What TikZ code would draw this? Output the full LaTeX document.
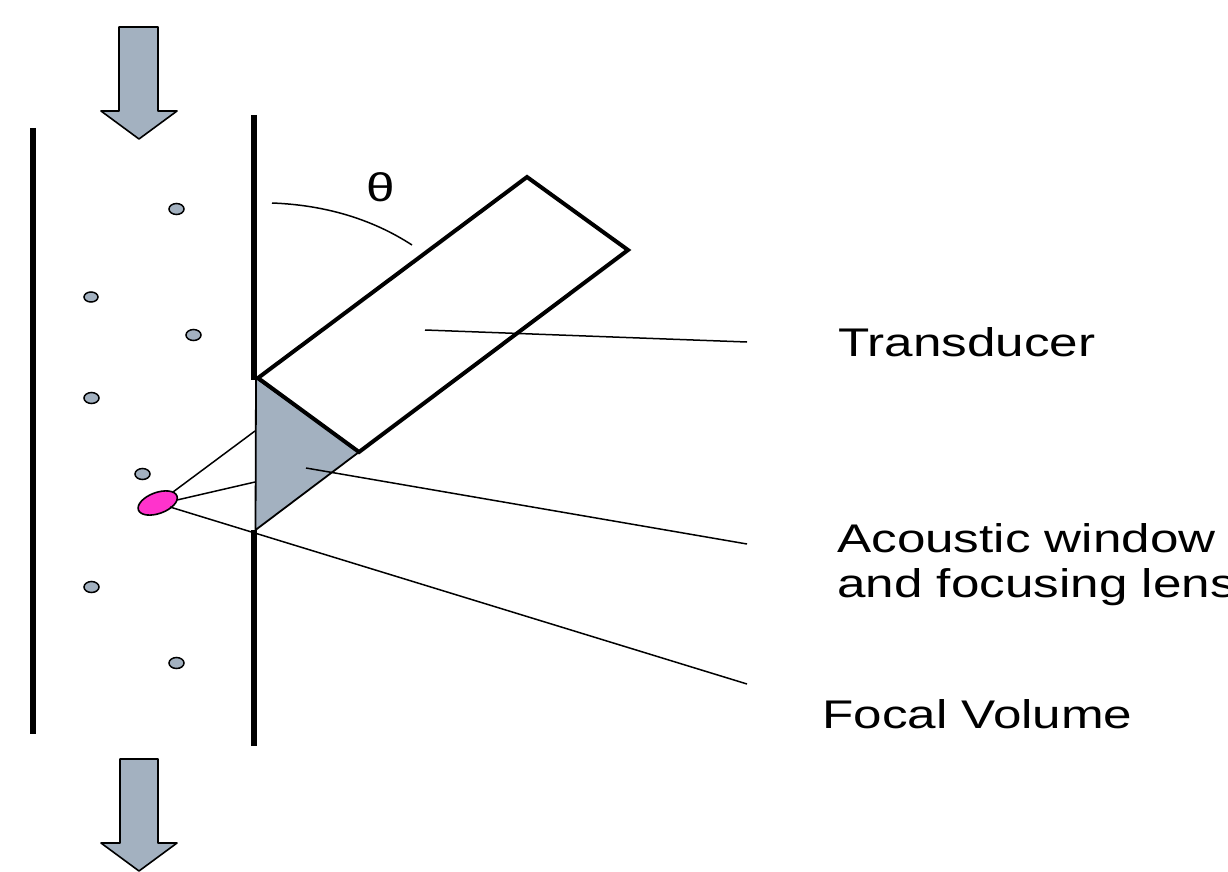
\documentclass[tikz,border=0pt]{standalone}
\usepackage{fontspec}
\setmainfont{Liberation Sans}
\usetikzlibrary{shapes.geometric}
\definecolor{bluegray}{HTML}{A3B1C0}
\definecolor{focalpink}{HTML}{FF33CC}
\tikzset{
  wall/.style={line width=6pt,line cap=butt},
  thinline/.style={line width=1.5pt},
  flowarrow/.style={draw=black,line width=1.6pt,fill=bluegray,line join=round},
  dotp/.style={ellipse,draw=black,line width=1.5pt,fill=bluegray,minimum width=15pt,minimum height=11pt,inner sep=0pt},
  smalldot/.style={dotp,minimum width=14pt,minimum height=10pt},
  label/.style={anchor=base west,inner sep=0pt,font=\fontsize{40}{40}\selectfont,xscale=1.28,transform shape},
}
\begin{document}
\begin{tikzpicture}[x=1pt,y=-1pt]
\useasboundingbox (0,0) rectangle (1228,872);
% walls
\draw[wall] (33,128) -- (33,734);
\draw[wall] (254,115) -- (254,380);
\draw[wall] (254,530) -- (254,746);
% flow arrows
\draw[flowarrow] (119,27) -- (158,27) -- (158,111) -- (177,111) -- (139,139) -- (101,111) -- (119,111) -- cycle;
\draw[flowarrow] (120,759) -- (158,759) -- (158,843) -- (177,843) -- (139,871) -- (101,843) -- (120,843) -- cycle;
% particles
\node[dotp] (p1) at (176.5,209) {};
\node[smalldot] (p2) at (91,297) {};
\node[dotp] (p3) at (193.5,335) {};
\node[dotp] (p4) at (91.5,398) {};
\node[dotp] (p5) at (142.5,474) {};
\node[dotp] (p6) at (91.5,587) {};
\node[dotp] (p7) at (176.5,663) {};
% lens and transducer
\coordinate (lt) at (256,378);
\coordinate (lr) at (359,452);
\coordinate (lb) at (255.5,530);
\coordinate (tl) at (258,378);
\coordinate (tt) at (527,177);
\coordinate (tr) at (628,250);
\coordinate (b1) at (255,431);
\coordinate (b2) at (255,482);
\draw[line width=1.8pt,fill=bluegray,line join=miter] (lt) -- (lr) -- (lb) -- cycle;
\draw[line width=4pt,line join=miter] (tl) -- (tt) -- (tr) -- (lr) -- cycle;
% focal volume
\node[ellipse,draw=black,line width=1.6pt,fill=focalpink,minimum width=41pt,minimum height=21pt,inner sep=0pt,rotate=20] (focal) at (157.7,503) {};
\coordinate (f1) at (173,492);
\coordinate (f2) at (177,500);
\coordinate (f3) at (170,507);
\draw[thinline] (f1) -- (b1);
\draw[thinline] (f2) -- (b2);
% labels
\node[label] (transducer) at (838,356) {Transducer};
\node[label] (window) at (837,552) {Acoustic window};
\node[label] (lens) at (837,597) {and focusing lens};
\node[label] (volume) at (822,728) {Focal Volume};
\node[label] (theta) at (366,201) {θ};
% leaders
\coordinate (l1) at (747,342);
\coordinate (l2) at (747,544);
\coordinate (l3) at (747,684);
\coordinate (t0) at (425,330);
\coordinate (w0) at (306,468);
\draw[thinline] (t0) -- (l1);
\draw[thinline] (w0) -- (l2);
\draw[thinline] (f3) -- (l3);
% angle arc
\coordinate (a0) at (272,203);
\coordinate (a1) at (412,245);
\draw[thinline] (a0) .. controls (325,205) and (372,219) .. (a1);
\end{tikzpicture}
\end{document}
